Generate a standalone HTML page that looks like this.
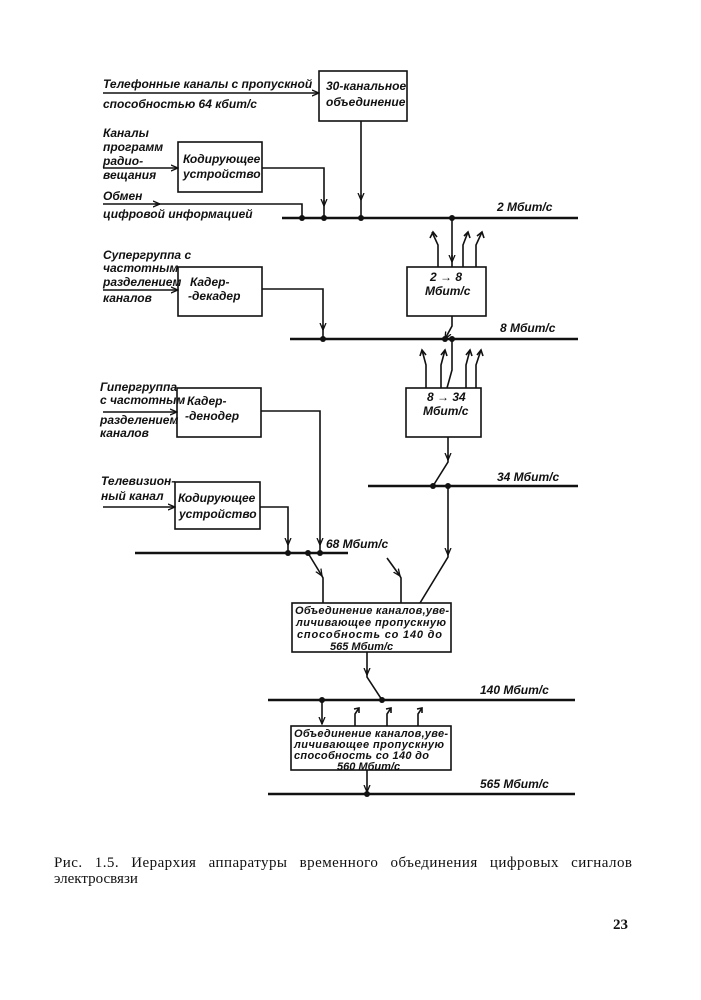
<!DOCTYPE html>
<html><head><meta charset="utf-8"><style>
html,body{margin:0;padding:0;background:#fff;}
svg{display:block}
.l{font-family:"Liberation Sans",sans-serif;font-style:italic;font-size:12px;fill:#111;font-weight:600}
.c{font-family:"Liberation Serif",serif;font-size:15px;fill:#111}
</style></head><body>
<svg width="701" height="1000" viewBox="0 0 701 1000" xmlns="http://www.w3.org/2000/svg">
<defs><marker id="a" markerWidth="8" markerHeight="8" refX="7" refY="4" orient="auto" markerUnits="userSpaceOnUse"><path d="M0,1 L7,4 L0,7" fill="none" stroke="#111" stroke-width="1.3"/></marker></defs>
<g stroke="#111" stroke-width="1.6" fill="none">
<rect x="319" y="71" width="88" height="50"/>
<rect x="178" y="142" width="84" height="50"/>
<rect x="407" y="267" width="79" height="49"/>
<rect x="178" y="267" width="84" height="49"/>
<rect x="406" y="388" width="75" height="49"/>
<rect x="177" y="388" width="84" height="49"/>
<rect x="175" y="482" width="85" height="47"/>
<rect x="292" y="603" width="159" height="49"/>
<rect x="291" y="726" width="160" height="44"/>
<line x1="282" y1="218" x2="578" y2="218" stroke-width="2.6"/>
<line x1="290" y1="339" x2="578" y2="339" stroke-width="2.6"/>
<line x1="368" y1="486" x2="578" y2="486" stroke-width="2.6"/>
<line x1="135" y1="553" x2="348" y2="553" stroke-width="2.6"/>
<line x1="268" y1="700" x2="575" y2="700" stroke-width="2.6"/>
<line x1="268" y1="794" x2="575" y2="794" stroke-width="2.6"/>
<line x1="103" y1="93" x2="319" y2="93" marker-end="url(#a)"/>
<line x1="103" y1="168" x2="178" y2="168" marker-end="url(#a)"/>
<polyline points="262,168 324,168 324,206" marker-end="url(#a)"/>
<line x1="324" y1="200" x2="324" y2="218"/>
<line x1="103" y1="204" x2="160" y2="204" marker-end="url(#a)"/>
<polyline points="155,204 302,204 302,218"/>
<line x1="361" y1="121" x2="361" y2="200" marker-end="url(#a)"/>
<line x1="361" y1="195" x2="361" y2="218"/>
<line x1="452" y1="218" x2="452" y2="262" marker-end="url(#a)"/>
<line x1="452" y1="255" x2="452" y2="267"/>
<polyline points="438,267 438,245 432,232"/><path d="M430,238 L433,232 L437,237"/>
<polyline points="463,267 463,245 468,232"/><path d="M464,236 L468,232 L470,238"/>
<polyline points="476,267 476,245 482,232"/><path d="M477,236 L482,232 L484,238"/>
<line x1="103" y1="290" x2="178" y2="290" marker-end="url(#a)"/>
<polyline points="262,289 323,289 323,330" marker-end="url(#a)"/>
<line x1="323" y1="325" x2="323" y2="339"/>
<polyline points="452,316 452,326 445,339" marker-end="url(#a)"/>
<polyline points="452,339 452,370 447,388"/>
<polyline points="426,388 426,365 422,350"/><path d="M420,356 L422,350 L426,355"/>
<polyline points="441,388 441,365 445,350"/><path d="M441,355 L445,350 L447,356"/>
<polyline points="466,388 466,365 470,350"/><path d="M466,355 L470,350 L472,356"/>
<polyline points="476,388 476,365 481,350"/><path d="M477,355 L481,350 L483,356"/>
<line x1="103" y1="412" x2="177" y2="412" marker-end="url(#a)"/>
<polyline points="261,411 320,411 320,545" marker-end="url(#a)"/>
<line x1="320" y1="540" x2="320" y2="553"/>
<line x1="103" y1="507" x2="175" y2="507" marker-end="url(#a)"/>
<polyline points="260,507 288,507 288,545" marker-end="url(#a)"/>
<line x1="288" y1="540" x2="288" y2="553"/>
<line x1="448" y1="437" x2="448" y2="460" marker-end="url(#a)"/>
<polyline points="448,455 448,462 433,486"/>
<line x1="448" y1="486" x2="448" y2="555" marker-end="url(#a)"/>
<polyline points="448,550 448,557 420,603"/>
<line x1="308" y1="553" x2="322" y2="576" marker-end="url(#a)"/>
<polyline points="321,574 323,578 323,603"/>
<line x1="387" y1="558" x2="400" y2="576" marker-end="url(#a)"/>
<polyline points="399,574 401,578 401,603"/>
<line x1="367" y1="652" x2="367" y2="675" marker-end="url(#a)"/>
<polyline points="367,670 367,677 382,700"/>
<line x1="322" y1="700" x2="322" y2="724" marker-end="url(#a)"/>
<polyline points="355,726 355,714 359,708"/><path d="M354,709 L359,708 L359,713"/>
<polyline points="387,726 387,714 391,708"/><path d="M386,709 L391,708 L391,713"/>
<polyline points="418,726 418,714 422,708"/><path d="M417,709 L422,708 L422,713"/>
<line x1="367" y1="770" x2="367" y2="792" marker-end="url(#a)"/>
</g>
<g fill="#111">
<circle cx="302" cy="218" r="3"/><circle cx="324" cy="218" r="3"/><circle cx="361" cy="218" r="3"/><circle cx="452" cy="218" r="3"/>
<circle cx="323" cy="339" r="3"/><circle cx="445" cy="339" r="3"/><circle cx="452" cy="339" r="3"/>
<circle cx="433" cy="486" r="3"/><circle cx="448" cy="486" r="3"/>
<circle cx="288" cy="553" r="3"/><circle cx="308" cy="553" r="3"/><circle cx="320" cy="553" r="3"/>
<circle cx="322" cy="700" r="3"/><circle cx="382" cy="700" r="3"/>
<circle cx="367" cy="794" r="3"/>
</g>
<g class="l">
<text x="103" y="88">Телефонные каналы с  пропускной</text>
<text x="103" y="108">способностью  64 кбит/с</text>
<text x="326" y="90">30-канальное</text>
<text x="326" y="106">объединение</text>
<text x="103" y="137">Каналы</text>
<text x="103" y="151">программ</text>
<text x="103" y="165">радио-</text>
<text x="103" y="179">вещания</text>
<text x="183" y="163">Кодирующее</text>
<text x="183" y="178">устройство</text>
<text x="103" y="200">Обмен</text>
<text x="103" y="218">цифровой информацией</text>
<text x="497" y="211">2 Мбит/с</text>
<text x="103" y="259">Супергруппа с</text>
<text x="103" y="272">частотным</text>
<text x="103" y="286">разделением</text>
<text x="103" y="302">каналов</text>
<text x="190" y="286">Кадер-</text>
<text x="188" y="300">-декадер</text>
<text x="430" y="281">2 → 8</text>
<text x="425" y="295">Мбит/с</text>
<text x="500" y="332">8 Мбит/с</text>
<text x="100" y="391">Гипергруппа</text>
<text x="100" y="404">с частотным</text>
<text x="100" y="424">разделением</text>
<text x="100" y="437">каналов</text>
<text x="187" y="405">Кадер-</text>
<text x="185" y="420">-денодер</text>
<text x="427" y="401">8 → 34</text>
<text x="423" y="415">Мбит/с</text>
<text x="497" y="481">34 Мбит/с</text>
<text x="101" y="485">Телевизион-</text>
<text x="101" y="500">ный канал</text>
<text x="178" y="502">Кодирующее</text>
<text x="179" y="518">устройство</text>
<text x="326" y="548">68 Мбит/с</text>
<text x="295" y="614" font-size="11" textLength="154">Объединение каналов,уве-</text>
<text x="296" y="626" font-size="11" textLength="150">личивающее пропускную</text>
<text x="297" y="638" font-size="11" textLength="145">способность  со 140 до</text>
<text x="330" y="650" font-size="11">565 Мбит/с</text>
<text x="480" y="694">140 Мбит/с</text>
<text x="294" y="737" font-size="11" textLength="154">Объединение каналов,уве-</text>
<text x="294" y="748" font-size="11" textLength="150">личивающее пропускную</text>
<text x="294" y="759" font-size="11" textLength="135">способность  со 140 до</text>
<text x="337" y="770" font-size="11">560 Мбит/с</text>
<text x="480" y="788">565 Мбит/с</text>
</g>
<text class="c" x="54" y="867" textLength="578" lengthAdjust="spacing" word-spacing="8">Рис. 1.5. Иерархия аппаратуры временного объединения цифровых сигналов</text>
<text class="c" x="54" y="883">электросвязи</text>
<text class="c" x="613" y="929" font-weight="bold">23</text>
</svg>
</body></html>
